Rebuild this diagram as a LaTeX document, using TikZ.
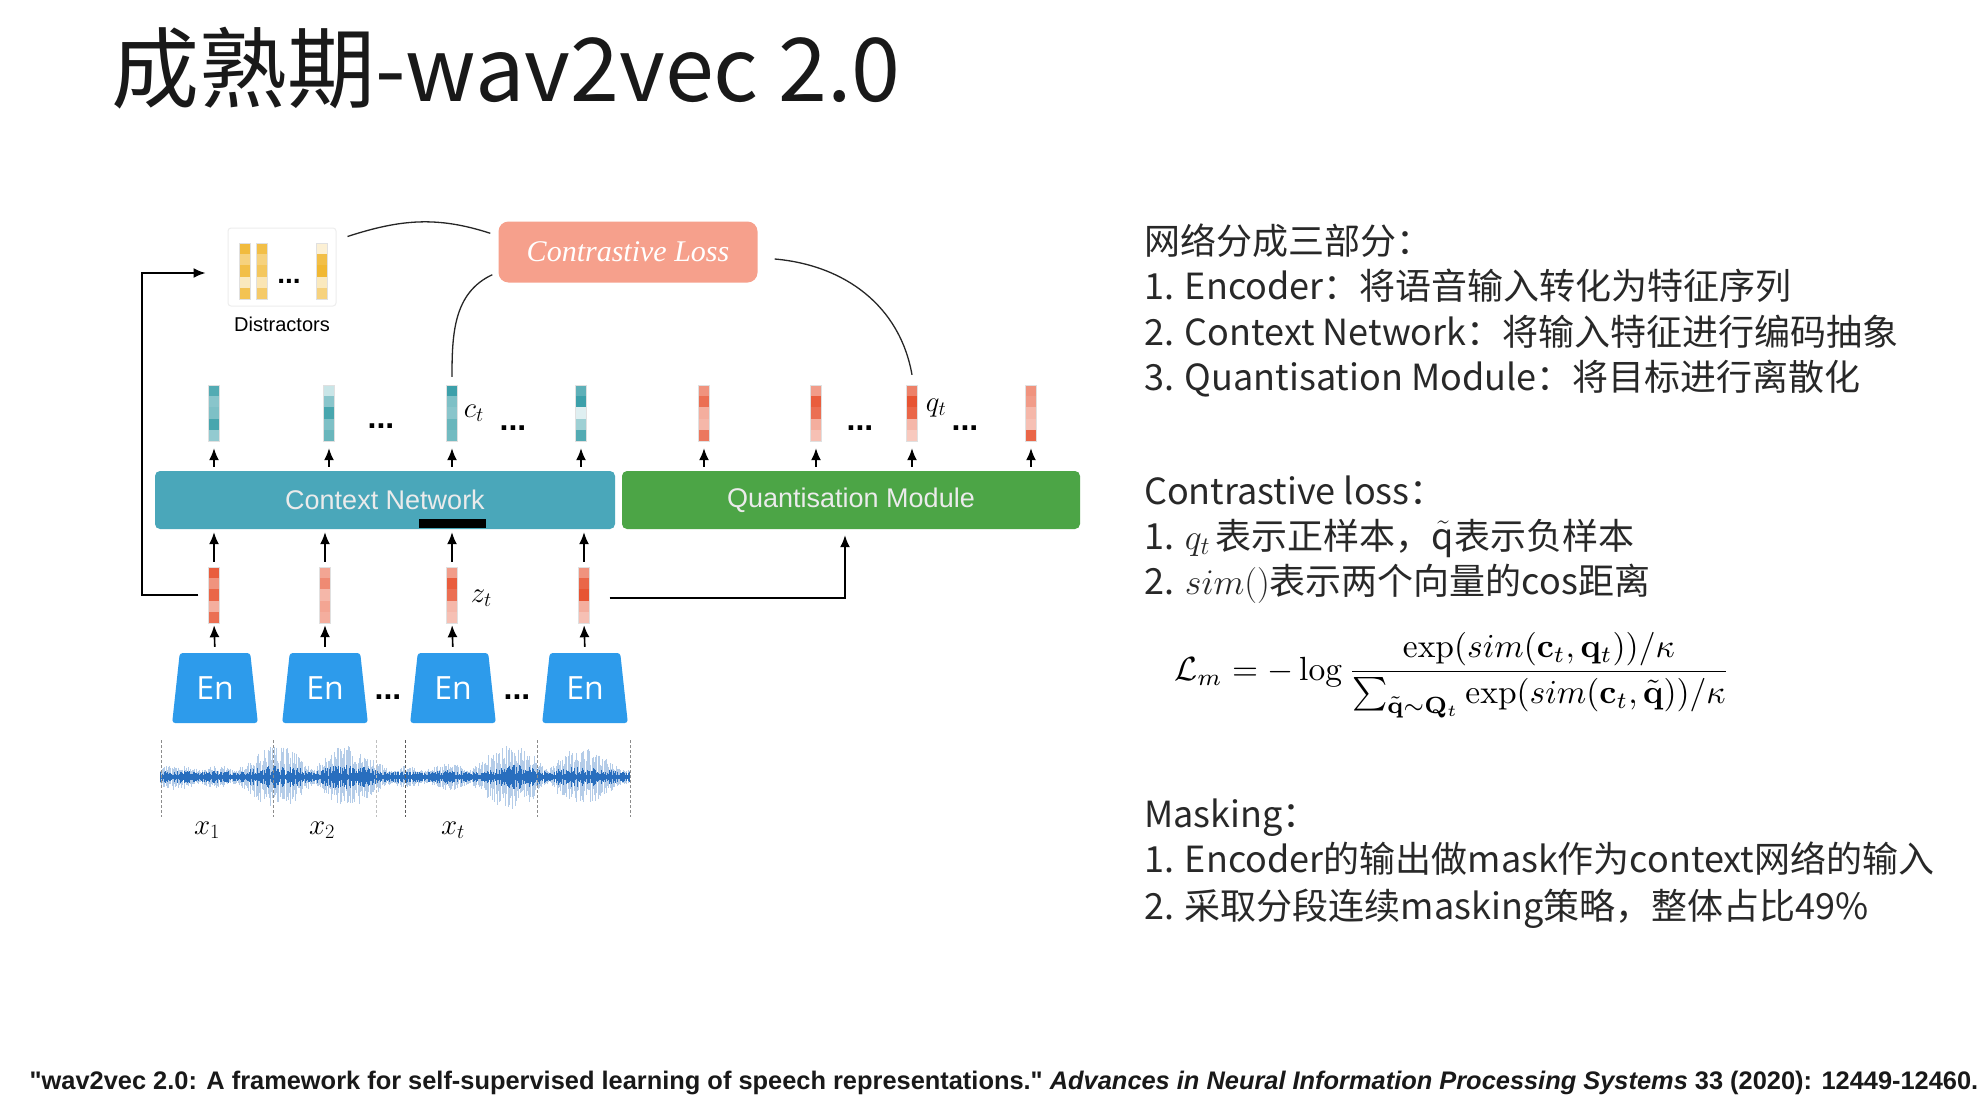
\RequirePackage{fix-cm}
\documentclass[tikz,border=0pt]{standalone}
\usepackage[no-math]{fontspec}
\setmainfont{Noto Sans CJK SC}
\newfontfamily\diagfont{Liberation Sans}
\newfontfamily\lossfont{Liberation Serif}
\newfontfamily\enfont{Open Sans}
\usetikzlibrary{positioning, shapes.geometric, arrows.meta}

\definecolor{ctxteal}{RGB}{74,167,186}
\definecolor{quantgreen}{RGB}{76,165,70}
\definecolor{losssalmon}{RGB}{246,160,140}
\definecolor{enblue}{RGB}{45,155,235}
\definecolor{barteal}{RGB}{40,150,160}
\definecolor{barred}{RGB}{230,75,40}
\definecolor{baryellow}{RGB}{240,180,40}
\definecolor{wave}{RGB}{40,110,190}
\definecolor{slidetext}{RGB}{40,40,40}

% one feature vector: name, x, top y, colour, cell shades
\newcommand{\featbar}[5]{%
  \foreach \s [count=\i from 0] in {#5}
    \fill[#4!\s!white] (#2-5.5,#3-\i*11.2) rectangle ++(11,-11.2);
  \node[barframe] (#1) at (#2,#3-28) {};
}

\begin{document}
\begin{tikzpicture}[x=1pt, y=1pt,
    >={Latex[length=12pt,width=10pt]},
    block/.style={rectangle, rounded corners=5pt,
                  minimum width=460pt, minimum height=58pt,
                  text=white!92!black,
                  font=\diagfont\fontsize{27}{30}\selectfont},
    barframe/.style={rectangle, draw=black!12, line width=0.4pt,
                     minimum width=11pt, minimum height=56pt, inner sep=0pt},
    uparrow/.style={->, line width=1.6pt},
    feed/.style={->, line width=1.7pt},
    link/.style={line width=1.3pt, black!85},
    enc/.style={trapezium, trapezium stretches, trapezium angle=80,
                minimum width=86pt, minimum height=70pt, inner sep=0pt,
                fill=enblue, rounded corners=3pt, text=white,
                font=\enfont\fontsize{32}{34}\selectfont},
    dots/.style={anchor=base, inner sep=0pt,
                 font=\diagfont\bfseries\fontsize{32}{34}\selectfont},
    sym/.style={inner sep=1pt, font=\fontsize{29}{31}\selectfont},
    slide/.style={anchor=base west, inner sep=0pt, text=slidetext,
                  font=\fontsize{36}{44}\selectfont}]

    \useasboundingbox (0,0) rectangle (1986,-1100);
    \fill[white] (0,0) rectangle (1986,-1100);

    % title
    \node[anchor=base west, inner sep=0pt,
          font=\fontsize{88}{100}\selectfont,
          text=black!90] (title) at (111,-101) {成熟期-wav2vec 2.0};

    % context network and quantisation module
    \node[block, fill=ctxteal] (ctx) at (385,-500) {Context Network};
    \node[block,
          fill=quantgreen,
          minimum width=458pt] (quant) at (851,-500) {Quantisation Module};
    \fill[black] (419,-519) rectangle (486,-528);

    % context vectors c
    \featbar{c1}{214}{-385}{barteal}{80,55,60,85,50}
    \featbar{c2}{329}{-385}{barteal}{25,55,85,60,70}
    \featbar{c3}{452}{-385}{barteal}{90,60,55,70,65}
    \featbar{c4}{581}{-385}{barteal}{75,90,15,45,80}

    % quantised vectors q
    \featbar{q1}{704}{-385}{barred}{60,80,45,40,75}
    \featbar{q2}{816}{-385}{barred}{55,90,80,45,35}
    \featbar{q3}{912}{-385}{barred}{70,95,85,40,30}
    \featbar{q4}{1031}{-385}{barred}{60,55,40,35,85}

    % latent vectors z
    \featbar{z1}{214}{-567}{barred}{90,60,85,45,80}
    \featbar{z2}{325}{-567}{barred}{50,65,40,50,45}
    \featbar{z3}{452}{-567}{barred}{55,90,80,40,35}
    \featbar{z4}{584}{-567}{barred}{60,85,95,45,35}

    % encoders
    \node[enc] (en1) at (215,-688) {En};
    \node[enc] (en2) at (325,-688) {En};
    \node[enc] (en3) at (453,-688) {En};
    \node[enc] (en4) at (585,-688) {En};

    % arrows
    \foreach \n in {1,2,3,4} {
        \draw[uparrow, shorten <=6pt, shorten >=2pt] (en\n.north) -- (z\n.south);
        \draw[uparrow, shorten <=5pt, shorten >=3pt] (z\n.north) -- (z\n.north |- ctx.south);
        \draw[uparrow, shorten <=4pt, shorten >=7pt] (c\n.south |- ctx.north) -- (c\n.south);
        \draw[uparrow, shorten <=4pt, shorten >=7pt] (q\n.south |- quant.north) -- (q\n.south);
    }

    % distractors
    \node[rectangle,
          draw=black!7,
          line width=1pt,
          rounded corners=3pt,
          minimum width=108pt,
          minimum height=78pt] (distr) at (282,-267) {};
    \featbar{d1}{245}{-243}{baryellow}{90,60,85,30,80}
    \featbar{d2}{262}{-243}{baryellow}{85,60,75,35,70}
    \featbar{d3}{322}{-243}{baryellow}{20,85,95,30,60}
    \node[font=\diagfont\fontsize{20}{22}\selectfont,
          below=7pt of distr] (distrlabel) {Distractors};

    % contrastive loss
    \node[rectangle,
          rounded corners=10pt,
          fill=losssalmon,
          minimum width=259pt,
          minimum height=61pt,
          text=white,
          font=\lossfont\itshape\fontsize{30}{32}\selectfont] (loss) at (628,-252) {Contrastive Loss};

    \draw[link] ([xshift=11pt,yshift=-9pt]distr.north east)
        to[out=18, in=162] ([xshift=-8pt,yshift=-12pt]loss.north west);
    \draw[link] ([xshift=-6pt,yshift=8pt]loss.south west)
        to[out=205, in=90] ([yshift=8pt]c3.north);
    \draw[link] ([xshift=17pt,yshift=-7pt]loss.east)
        to[out=-5, in=100] ([yshift=10pt]q3.north);

    % feedback lines
    \draw[feed] ([xshift=-10pt]z1.west) -- ++(-56,0)
        |- ([xshift=-22pt,yshift=-6pt]distr.west);
    \draw[feed, shorten >=6pt] ([xshift=20pt,yshift=-3pt]z4.east)
        -| ([xshift=-6pt]quant.south);

    % labels and dots
    \node[sym, right=5pt of c3] (ctlabel) {$c_t$};
    \node[sym, right=7pt of q3, yshift=5pt] (qtlabel) {$q_t$};
    \node[sym, right=12pt of z3, yshift=-3pt] (ztlabel) {$z_t$};
    \node[dots] (cdots1) at (381,-428) {...};
    \node[dots] (cdots2) at (513,-430) {...};
    \node[dots] (qdots1) at (860,-430) {...};
    \node[dots] (qdots2) at (965,-430) {...};
    \node[dots] (edots1) at (388,-699) {...};
    \node[dots] (edots2) at (517,-699) {...};
    \node[dots, font=\diagfont\bfseries\fontsize{28}{30}\selectfont] (ddots) at (289,-283) {...};

    % waveform
    \pgfmathsetseed{42}
    \foreach \x in {160,161.2,...,630} {
        \pgfmathsetmacro\env{0.12+0.88*abs(sin(\x*2.3))*abs(sin(\x*0.8+20))}
        \pgfmathsetmacro\up{3+32*\env*(0.35+0.65*rnd)}
        \pgfmathsetmacro\dn{3+32*\env*(0.35+0.65*rnd)}
        \draw[wave!35, line width=0.7pt] (\x,-777+\up) -- (\x,-777-\dn);
    }
    \pgfmathsetseed{7}
    \foreach \x in {160,160.8,...,630} {
        \pgfmathsetmacro\env{0.12+0.88*abs(sin(\x*2.3))*abs(sin(\x*0.8+20))}
        \pgfmathsetmacro\core{1.5+(2+10*\env)*rnd}
        \draw[wave, line width=0.6pt] (\x,-777+\core) -- (\x,-777-\core);
    }
    \foreach \x/\tone in {161/45,273/45,376/25,405/65,537/45,630/45}
        \draw[black!\tone, line width=1pt, densely dashed] (\x,-740) -- (\x,-817);

    \node[sym] (x1) at (207,-830) {$x_1$};
    \node[sym] (x2) at (322,-830) {$x_2$};
    \node[sym] (xt) at (453,-830) {$x_t$};

    % right-hand notes
    \node[slide] (parts) at (1144,-254) {网络分成三部分：};
    \node[slide] (part1) at (1144,-299) {1. Encoder：将语音输入转化为特征序列};
    \node[slide] (part2) at (1144,-345) {2. Context Network：将输入特征进行编码抽象};
    \node[slide] (part3) at (1144,-390) {3. Quantisation Module：将目标进行离散化};

    \node[slide] (closs) at (1144,-504) {Contrastive loss：};
    \node[slide] (closs1) at (1144,-549) {1. $q_t$\,表示正样本，$\tilde{\mbox{q}}$表示负样本};
    \node[slide] (closs2) at (1144,-594) {2. $sim()$表示两个向量的cos距离};
    \node[scale=3.35] (lossformula) at (1452,-675)
        {$\displaystyle \mathcal{L}_m = -\log \frac{\exp(sim(\mathbf{c}_t,\mathbf{q}_t))/\kappa}{\sum_{\tilde{\mathbf{q}}\sim\mathbf{Q}_t}\exp(sim(\mathbf{c}_t,\tilde{\mathbf{q}}))/\kappa}$};

    \node[slide] (mask) at (1144,-827) {Masking：};
    \node[slide] (mask1) at (1144,-872) {1. Encoder的输出做mask作为context网络的输入};
    \node[slide] (mask2) at (1144,-919) {2. 采取分段连续masking策略，整体占比49\%};

    % reference
    \node[font=\diagfont\bfseries\fontsize{25.4}{28}\selectfont,
          text=black!90] (cite) at (1004,-1083)
        {"wav2vec 2.0: A framework for self-supervised learning of speech representations." \textit{Advances in Neural Information Processing Systems} 33 (2020): 12449-12460.};
\end{tikzpicture}
\end{document}
